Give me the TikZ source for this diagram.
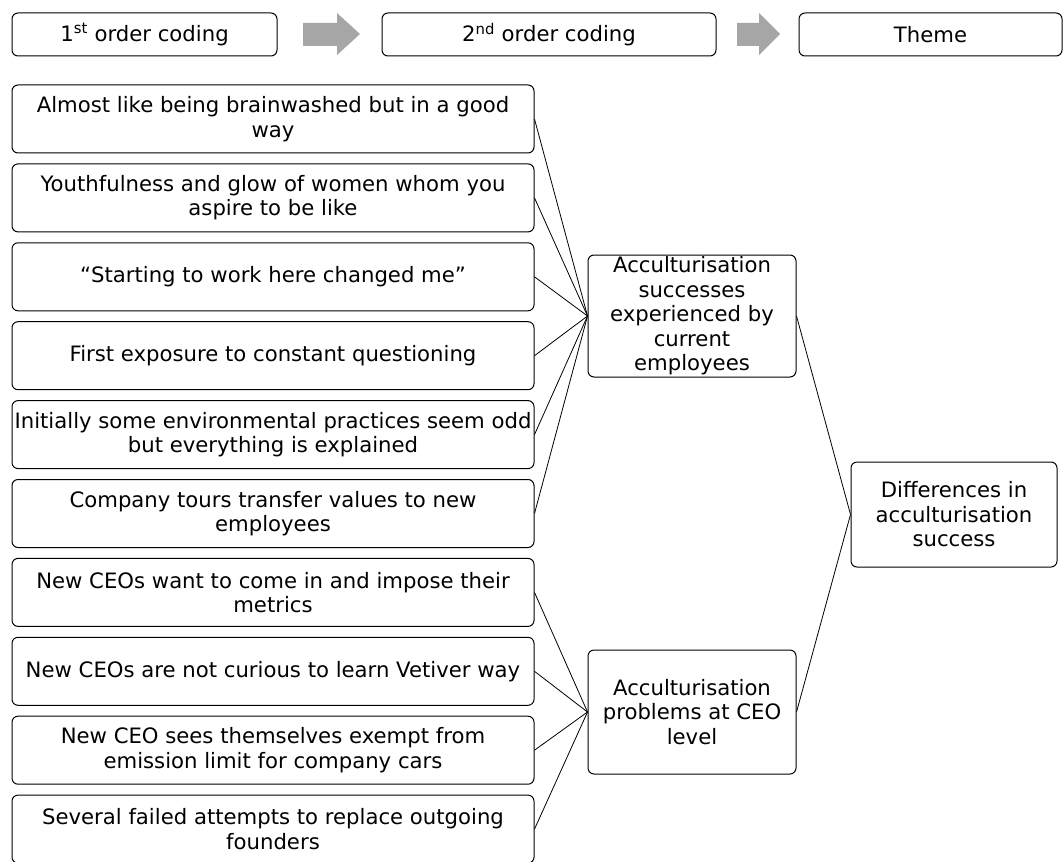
\documentclass[tikz,border=0pt]{standalone}
\usepackage{fontspec}
\setmainfont{DejaVu Sans}
\usetikzlibrary{positioning}

\begin{document}
\begin{tikzpicture}[
    x=1pt, y=-1pt,
    node distance=9.9pt,
    every node/.style={font=\fontsize{21.2}{24.5}\selectfont, text=black},
    box/.style={draw, line width=1pt, rounded corners=6pt, align=center, inner sep=1pt},
    header/.style={box, minimum height=43pt},
    quote/.style={box, minimum width=522pt, minimum height=68pt},
    category/.style={box, minimum width=208pt},
    flowarrow/.style={fill=black!35},
    link/.style={line width=0.8pt},
]
\useasboundingbox (0,0) rectangle (1064,861);

% Column headers
\node[header, minimum width=265pt] (first) at (144.5,34.5) {1\textsuperscript{st} order coding};
\node[header, minimum width=334pt] (second) at (549,34.5) {2\textsuperscript{nd} order coding};
\node[header, minimum width=263pt] (theme) at (930.5,34.5) {Theme};

% Grey block arrows between the headers
\fill[flowarrow] (303,23) -- (337,23) -- (337,13) -- (360,34) -- (337,55) -- (337,46) -- (303,46) -- cycle;
\fill[flowarrow] (737,23) -- (759,23) -- (759,13) -- (780,34) -- (759,55) -- (759,46) -- (737,46) -- cycle;

% 1st order codes
\node[quote] (q1) at (273,119) {Almost like being brainwashed but in a good\\way};
\node[quote, below=of q1] (q2) {Youthfulness and glow of women whom you\\aspire to be like};
\node[quote, below=of q2] (q3) {``Starting to work here changed me''};
\node[quote, below=of q3] (q4) {First exposure to constant questioning};
\node[quote, below=of q4] (q5) {Initially some environmental practices seem odd\\but everything is explained};
\node[quote, below=of q5] (q6) {Company tours transfer values to new\\employees};
\node[quote, below=of q6] (q7) {New CEOs want to come in and impose their\\metrics};
\node[quote, below=of q7] (q8) {New CEOs are not curious to learn Vetiver way};
\node[quote, below=of q8] (q9) {New CEO sees themselves exempt from\\emission limit for company cars};
\node[quote, below=of q9] (q10) {Several failed attempts to replace outgoing\\founders};

% 2nd order codes and theme
\node[category, minimum height=122pt] (succ) at (692,316)
    {Acculturisation\\successes\\experienced by\\current\\employees};
\node[category, minimum height=124pt] (prob) at (692,712)
    {Acculturisation\\problems at CEO\\level};
\node[box, minimum width=206pt, minimum height=105pt] (diff) at (954,514.5)
    {Differences in\\acculturisation\\success};

% Links
\foreach \q in {q1,q2,q3,q4,q5,q6}{
    \draw[link] (\q.east) -- (succ.west);
}
\foreach \q in {q7,q8,q9,q10}{
    \draw[link] (\q.east) -- (prob.west);
}
\foreach \c in {succ,prob}{
    \draw[link] (\c.east) -- (diff.west);
}

\end{tikzpicture}
\end{document}
